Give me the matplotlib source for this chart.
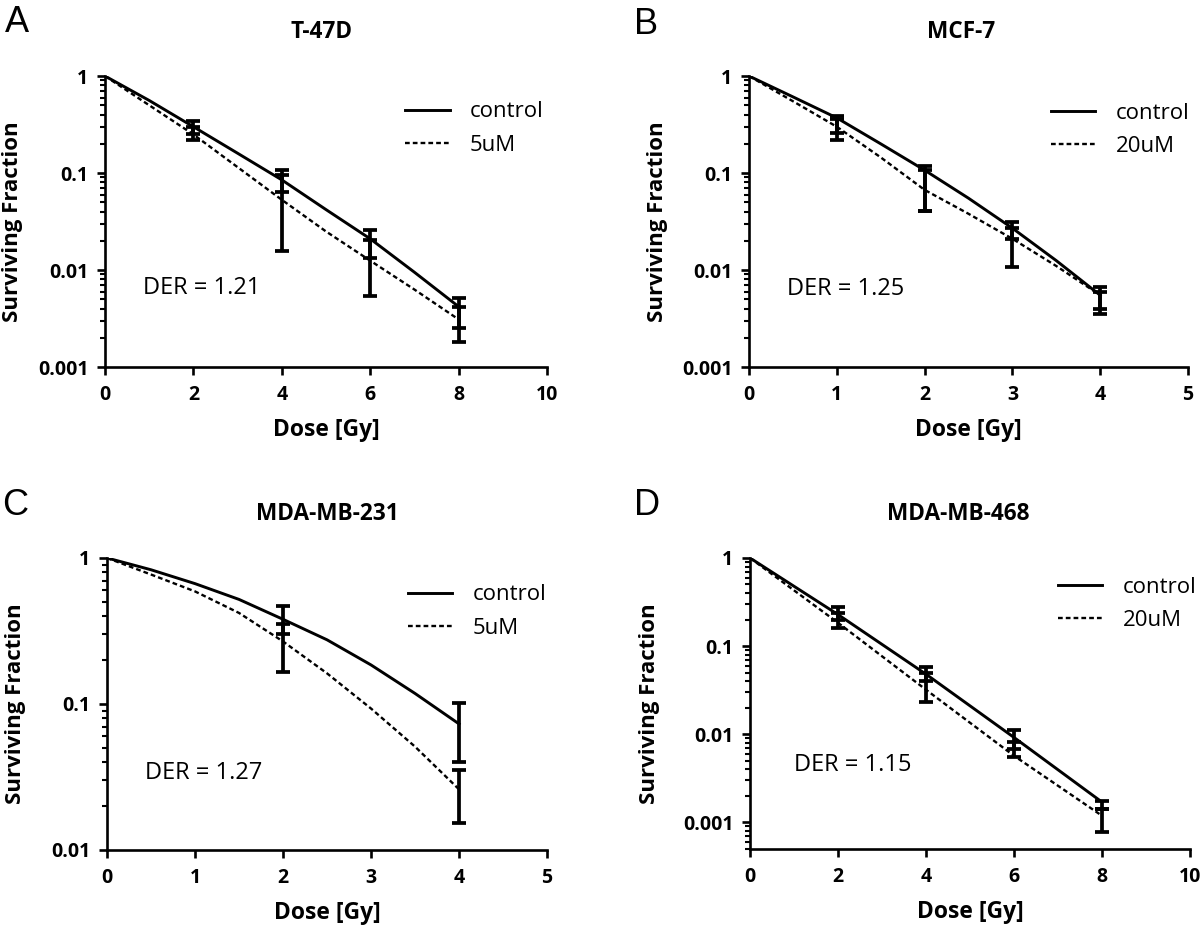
import matplotlib
matplotlib.use("Agg")
import matplotlib.pyplot as plt
import numpy as np
from matplotlib.ticker import FixedLocator, LogLocator, NullFormatter, FuncFormatter

plt.rcParams['font.family'] = ['Open Sans', 'DejaVu Sans']

# panel A: T-47D
fit_dose_a = [0, 1, 2, 3, 4, 5, 6, 7, 8]
ctrl_fit_a = [1, 0.56, 0.30, 0.16, 0.085, 0.042, 0.021, 0.0095, 0.0042]
trt_fit_a = [1, 0.50, 0.25, 0.115, 0.053, 0.025, 0.0125, 0.0063, 0.0031]
pt_dose_a = [2, 4, 6, 8]
ctrl_mean_a = [0.30, 0.085, 0.021, 0.0042]
ctrl_lo_a = [0.255, 0.0636, 0.0132, 0.0025]
ctrl_hi_a = [0.345, 0.108, 0.026, 0.0051]
trt_mean_a = [0.25, 0.053, 0.0125, 0.0031]
trt_lo_a = [0.218, 0.0158, 0.0054, 0.0018]
trt_hi_a = [0.30, 0.095, 0.0204, 0.0042]

# panel B: MCF-7
fit_dose_b = [0, 0.5, 1, 1.5, 2, 2.5, 3, 3.5, 4]
ctrl_fit_b = [1, 0.61, 0.37, 0.20, 0.107, 0.055, 0.027, 0.0125, 0.0055]
trt_fit_b = [1, 0.55, 0.30, 0.145, 0.067, 0.038, 0.021, 0.011, 0.0055]
pt_dose_b = [1, 2, 3, 4]
ctrl_mean_b = [0.37, 0.107, 0.027, 0.0055]
ctrl_lo_b = [0.26, 0.041, 0.021, 0.004]
ctrl_hi_b = [0.385, 0.119, 0.031, 0.0067]
trt_mean_b = [0.30, 0.067, 0.021, 0.0055]
trt_lo_b = [0.22, 0.041, 0.0108, 0.0035]
trt_hi_b = [0.36, 0.107, 0.027, 0.006]

# panel C: MDA-MB-231
fit_dose_c = [0, 0.5, 1, 1.5, 2, 2.5, 3, 3.5, 4]
ctrl_fit_c = [1, 0.83, 0.667, 0.52, 0.38, 0.275, 0.185, 0.118, 0.073]
trt_fit_c = [1, 0.77, 0.59, 0.42, 0.268, 0.162, 0.093, 0.051, 0.026]
pt_dose_c = [2, 4]
ctrl_mean_c = [0.38, 0.073]
ctrl_lo_c = [0.30, 0.040]
ctrl_hi_c = [0.466, 0.102]
trt_mean_c = [0.268, 0.026]
trt_lo_c = [0.166, 0.0153]
trt_hi_c = [0.352, 0.0355]

# panel D: MDA-MB-468
fit_dose_d = [0, 2, 4, 6, 8]
ctrl_fit_d = [1, 0.228, 0.048, 0.0092, 0.0017]
trt_fit_d = [1, 0.184, 0.032, 0.0057, 0.00119]
pt_dose_d = [2, 4, 6, 8]
ctrl_mean_d = [0.228, 0.048, 0.0092, 0.0017]
ctrl_lo_d = [0.20, 0.040, 0.0068, 0.00141]
ctrl_hi_d = [0.277, 0.058, 0.0112, 0.00176]
trt_mean_d = [0.184, 0.032, 0.0057, 0.00119]
trt_lo_d = [0.16, 0.023, 0.0055, 0.00077]
trt_hi_d = [0.235, 0.050, 0.0082, 0.00141]

fig = plt.figure(figsize=(12, 9.25), dpi=100)


def panel(rect, title, title_x, letter, letter_xy, treat_label, der, der_xy, leg_xy,
          fit_dose, ctrl_fit, trt_fit, pt_dose,
          ctrl_mean, ctrl_lo, ctrl_hi, trt_mean, trt_lo, trt_hi,
          xmax, xstep, ymin, ylab_x):
    ax = fig.add_axes(rect)
    ax.plot(fit_dose, ctrl_fit, color='black', lw=2.1, label='control')
    ax.plot(fit_dose, trt_fit, color='black', lw=1.7, ls=(0, (2.0, 1.3)), label=treat_label)

    cm = np.array(ctrl_mean)
    tm = np.array(trt_mean)
    ax.errorbar(pt_dose, cm, yerr=[cm - np.array(ctrl_lo), np.array(ctrl_hi) - cm],
                fmt='none', ecolor='black', elinewidth=2.7, capsize=5, capthick=2.7)
    ax.errorbar(pt_dose, tm, yerr=[tm - np.array(trt_lo), np.array(trt_hi) - tm],
                fmt='none', ecolor='black', elinewidth=2.7, capsize=5, capthick=2.7)

    ax.set_yscale('log')
    ax.set_xlim(0, xmax)
    ax.set_ylim(ymin, 1)
    ax.xaxis.set_major_locator(FixedLocator(np.arange(0, xmax + 0.01, xstep)))
    ax.yaxis.set_major_locator(LogLocator(base=10))
    ax.yaxis.set_minor_locator(LogLocator(base=10, subs=np.arange(2, 10)))
    ax.yaxis.set_minor_formatter(NullFormatter())
    ax.yaxis.set_major_formatter(FuncFormatter(lambda v, p: '%g' % v))
    ax.xaxis.set_major_formatter(FuncFormatter(lambda v, p: '%d' % v))

    for s in ['top', 'right']:
        ax.spines[s].set_visible(False)
    for s in ['left', 'bottom']:
        ax.spines[s].set_linewidth(1.9)
    ax.tick_params(axis='both', which='major', direction='out', length=6, width=1.9,
                   labelsize=14)
    ax.tick_params(axis='x', which='major', pad=7)
    ax.tick_params(axis='y', which='major', pad=6)
    ax.tick_params(axis='y', which='minor', direction='out', length=3.5, width=1.5)
    for lab in ax.get_xticklabels() + ax.get_yticklabels():
        lab.set_fontweight('bold')

    ax.set_xlabel('Dose [Gy]', fontsize=16.5, fontweight='bold', labelpad=9)
    ax.set_ylabel('Surviving Fraction', fontsize=16, fontweight='bold')
    ax.yaxis.set_label_coords(ylab_x, 0.5)

    ax.text(title_x, 1.15, title, transform=ax.transAxes, ha='center', va='center',
            fontsize=16.3, fontweight='bold')
    ax.text(der_xy[0], der_xy[1], der, transform=ax.transAxes, ha='left', va='center',
            fontsize=17)
    ax.legend(loc='center left', bbox_to_anchor=leg_xy, frameon=False, fontsize=16,
              handlelength=2.0, handletextpad=0.9, labelspacing=0.55, borderpad=0,
              borderaxespad=0)
    fig.text(letter_xy[0], letter_xy[1], letter, ha='center', va='center',
             fontsize=26, family='Liberation Sans')
    return ax


panel([0.0875, 0.6032, 0.3683, 0.3146], 'T-47D', 0.489, 'A', (0.0142, 0.976), '5uM',
      'DER = 1.21', (0.086, 0.271), (0.679, 0.82),
      fit_dose_a, ctrl_fit_a, trt_fit_a, pt_dose_a,
      ctrl_mean_a, ctrl_lo_a, ctrl_hi_a, trt_mean_a, trt_lo_a, trt_hi_a,
      10, 2, 0.001, -0.185)

panel([0.6242, 0.6032, 0.3658, 0.3146], 'MCF-7', 0.483, 'B', (0.538, 0.974), '20uM',
      'DER = 1.25', (0.087, 0.268), (0.688, 0.814),
      fit_dose_b, ctrl_fit_b, trt_fit_b, pt_dose_b,
      ctrl_mean_b, ctrl_lo_b, ctrl_hi_b, trt_mean_b, trt_lo_b, trt_hi_b,
      5, 1, 0.001, -0.185)

panel([0.0892, 0.0811, 0.3667, 0.3157], 'MDA-MB-231', 0.5, 'C', (0.0125, 0.453), '5uM',
      'DER = 1.27', (0.086, 0.264), (0.684, 0.817),
      fit_dose_c, ctrl_fit_c, trt_fit_c, pt_dose_c,
      ctrl_mean_c, ctrl_lo_c, ctrl_hi_c, trt_mean_c, trt_lo_c, trt_hi_c,
      5, 1, 0.01, -0.185)

panel([0.625, 0.0822, 0.3667, 0.3146], 'MDA-MB-468', 0.473, 'D', (0.539, 0.454), '20uM',
      'DER = 1.15', (0.10, 0.289), (0.70, 0.842),
      fit_dose_d, ctrl_fit_d, trt_fit_d, pt_dose_d,
      ctrl_mean_d, ctrl_lo_d, ctrl_hi_d, trt_mean_d, trt_lo_d, trt_hi_d,
      10, 2, 0.0005, -0.205)

fig.savefig('out.png', dpi=100)
